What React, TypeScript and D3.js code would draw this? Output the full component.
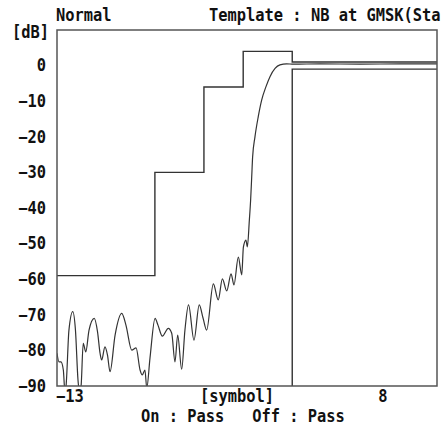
import React from "react";
import * as d3 from "d3";

const W = 441;
const H = 425;
const margin = { left: 57, right: 4, top: 30, bottom: 39 };

// Trace: time in symbols, level in dB
const traceT = [
  -13.0, -12.89, -12.78, -12.65, -12.56, -12.5, -12.34, -12.13, -11.98, -11.84, -11.76, -11.67,
  -11.55, -11.41, -11.23, -10.94, -10.76, -10.62, -10.53, -10.35, -10.21, -10.07, -9.79, -9.42,
  -9.19, -8.87, -8.63, -8.41, -8.29, -8.14, -8.04, -7.86, -7.58, -7.42, -7.18, -6.85, -6.66,
  -6.48, -6.33, -6.11, -5.93, -5.73, -5.43, -5.14, -4.93, -4.73, -4.36, -4.09, -3.86, -3.62,
  -3.38, -3.22, -2.98, -2.79, -2.7, -2.56, -2.48, -2.37, -2.3, -2.24, -2.19, -2.06, -1.88,
  -1.69, -1.45, -1.23, -0.95, -0.68, -0.31, 0.06, 1.53, 3.75, 5.96, 8.0,
];
const traceDb = [
  -80.8, -83.2, -83.2, -85.5, -91.7, -90.0, -74.3, -69.1, -74.3, -88.3, -91.7, -90.0,
  -78.0, -80.4, -74.3, -71.0, -74.8, -80.8, -82.7, -79.0, -81.3, -86.0, -75.7, -69.6,
  -72.9, -79.9, -79.3, -85.5, -86.9, -85.5, -90.6, -82.1, -71.0, -72.9, -76.0, -73.8, -75.2,
  -83.2, -75.7, -85.3, -74.3, -67.2, -77.1, -67.2, -70.9, -74.3, -61.3, -65.8, -59.9, -63.3,
  -58.5, -61.6, -53.8, -58.8, -51.0, -49.0, -50.9, -43.4, -37.8, -31.3, -25.7, -20.0, -14.4,
  -9.7, -5.9, -3.1, -0.8, 0.2, 0.5, 0.4, 0.5, 0.4, 0.5, 0.5,
];

// Upper template (step edges in symbols, levels in dB)
const upperT = [-13, -7.59, -7.59, -4.88, -4.88, -2.71, -2.71, 0, 0, 8];
const upperDb = [-59, -59, -30, -30, -6, -6, 4, 4, 1, 1];
// Lower template
const lowerT = [0, 0, 8];
const lowerDb = [-95, -1, -1];

const yTicks = [0, -10, -20, -30, -40, -50, -60, -70, -80, -90];
const xDomain = [-13, 8];
const yDomain = [-90, 10];

const FONT = "'DejaVu Sans Mono', monospace";

function T(props: { x: number; y: number; anchor?: "start" | "middle" | "end"; children: string }) {
  return (
    <text
      transform={`translate(${props.x},${props.y}) scale(1,1.1)`}
      textAnchor={props.anchor ?? "start"}
      xmlSpace="preserve"
      style={{ fontFamily: FONT, fontSize: 15.4, fontWeight: 700, fill: "#111", whiteSpace: "pre" }}
    >
      {props.children}
    </text>
  );
}

export default function App() {
  const x = d3.scaleLinear().domain(xDomain).range([margin.left, W - margin.right]);
  const y = d3.scaleLinear().domain(yDomain).range([H - margin.bottom, margin.top]);

  const line = d3
    .line<[number, number]>()
    .x((d) => x(d[0]))
    .y((d) => y(d[1]));
  const smooth = d3
    .line<[number, number]>()
    .x((d) => x(d[0]))
    .y((d) => y(d[1]))
    .curve(d3.curveMonotoneX);

  const trace = traceT.map((t, i) => [t, traceDb[i]] as [number, number]);
  const upper = upperT.map((t, i) => [t, upperDb[i]] as [number, number]);
  const lower = lowerT.map((t, i) => [t, lowerDb[i]] as [number, number]);

  const x0 = x(xDomain[0]);
  const x1 = x(xDomain[1]);
  const yTop = y(yDomain[1]);
  const yBot = y(yDomain[0]);

  return (
    <svg
      width={W}
      height={H}
      style={{ position: "fixed", left: 0, top: 0, background: "#fff", display: "block" }}
    >
      <rect x={0} y={0} width={W} height={H} fill="#fff" />
      <defs>
        <clipPath id="plot">
          <rect x={x0} y={yTop} width={x1 - x0} height={yBot - yTop} />
        </clipPath>
      </defs>

      <g clipPath="url(#plot)">
        <path d={line(upper) ?? ""} fill="none" stroke="#333" strokeWidth={1.4} />
        <path d={line(lower) ?? ""} fill="none" stroke="#333" strokeWidth={1.4} />
        <path d={smooth(trace) ?? ""} fill="none" stroke="#333" strokeWidth={1.2} />
      </g>

      <rect
        x={x0}
        y={yTop}
        width={x1 - x0}
        height={yBot - yTop}
        fill="none"
        stroke="#555"
        strokeWidth={1.5}
      />

      {yTicks.map((v) => (
        <T key={v} x={46} y={y(v) + 5.8} anchor="end">
          {v < 0 ? "\u2212" + Math.abs(v) : String(v)}
        </T>
      ))}

      <T x={12} y={38}>[dB]</T>
      <T x={56} y={21}>Normal</T>
      <T x={209} y={21}>Template : NB at GMSK(Sta</T>

      <T x={x(xDomain[0]) - 1} y={402}>{"\u221213"}</T>
      <T x={x(xDomain[1]) - 54} y={402} anchor="middle">8</T>
      <T x={237} y={402} anchor="middle">[symbol]</T>
      <T x={141} y={422}>{"On : Pass   Off : Pass"}</T>
    </svg>
  );
}
